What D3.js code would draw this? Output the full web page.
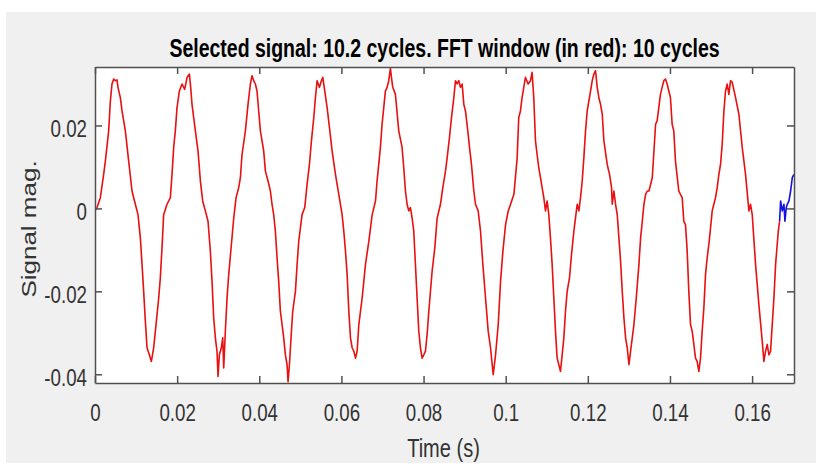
<!DOCTYPE html>
<html>
<head>
<meta charset="utf-8">
<script src="https://cdn.jsdelivr.net/npm/d3@7"></script>
<style>
  html, body { margin: 0; padding: 0; background: #fff; }
  svg { display: block; }
  text { font-family: "Liberation Sans", Arial, Helvetica, sans-serif; }
</style>
</head>
<body>
<svg id="chart"></svg>
<script>
// samples: [time in ms, signal in thousandths]
const redSignal = [
	[0, -0.5], [0.49, 0.2], [1.30, 2.6], [2.11, 8.2], [2.52, 11.4], [3.33, 18.7], [3.74, 25.9], [4.14, 30.0],
	[4.55, 31.2], [4.95, 30.8], [5.36, 31.0], [5.60, 29.2], [6.17, 26.7], [6.58, 23.5], [7.39, 18.7], [8.20, 11.4],
	[9.01, 4.2], [9.82, 1.0], [10.47, -1.5], [11.04, -7.1], [11.45, -13.5], [11.85, -20.0], [12.26, -27.2], [12.67, -33.6],
	[13.23, -35.3], [13.72, -36.9], [14.29, -33.6], [14.70, -29.6], [15.51, -21.6], [15.91, -16.7], [16.32, -9.5], [16.72, -1.5],
	[17.54, 1.0], [18.35, 2.6], [18.75, 8.2], [19.16, 14.7], [19.56, 18.7], [19.97, 24.3], [20.54, 28.3], [21.19, 30.0],
	[21.84, 28.7], [22.41, 31.6], [22.98, 32.4], [23.30, 29.2], [23.62, 25.1], [24.44, 18.7], [25.09, 13.8], [25.66, 6.6],
	[26.22, 1.8], [26.87, -0.6], [27.52, -3.1], [28.09, -10.3], [28.50, -17.6], [28.90, -26.4], [29.31, -31.2], [29.71, -34.5],
	[29.96, -40.5], [30.28, -35.3], [30.77, -33.6], [31.10, -31.2], [31.34, -38.5], [31.74, -29.6], [32.15, -21.6], [32.56, -15.9],
	[33.21, -8.7], [33.78, -2.3], [34.35, 2.6], [34.99, 5.0], [35.40, 7.4], [35.80, 13.0], [36.62, 18.7], [37.26, 25.1],
	[37.83, 30.0], [38.24, 32.0], [38.64, 30.8], [39.05, 30.0], [39.45, 28.3], [39.86, 23.5], [40.27, 18.7], [41.08, 13.8],
	[41.49, 9.0], [42.13, 6.6], [42.70, 4.2], [43.11, 1.0], [43.51, -1.5], [43.92, -5.5], [44.33, -11.9], [44.73, -17.6],
	[45.14, -24.8], [45.55, -28.0], [45.95, -31.2], [46.36, -35.3], [46.77, -37.7], [47.01, -41.8], [47.34, -37.7], [47.83, -29.6],
	[48.15, -24.8], [48.80, -20.0], [49.21, -13.5], [49.61, -7.9], [50.42, -1.5], [51.07, 0.2], [51.64, 5.8], [52.21, 10.6],
	[52.70, 16.3], [53.27, 21.9], [53.67, 26.7], [54.08, 30.8], [54.65, 29.2], [55.13, 30.8], [55.46, 31.6], [55.95, 28.3],
	[56.52, 24.3], [57.09, 19.5], [57.74, 13.8], [58.55, 8.2], [59.36, 3.4], [60.17, -1.5], [60.58, -5.5], [60.99, -10.3],
	[61.39, -15.9], [61.80, -24.8], [62.21, -31.2], [62.61, -33.6], [63.02, -34.4], [63.43, -36.1], [63.83, -34.4], [64.24, -28.0],
	[65.05, -21.6], [65.86, -13.5], [66.68, -7.9], [67.49, -1.5], [68.30, 1.8], [68.68, 6.6], [69.09, 10.6], [69.49, 14.7],
	[69.90, 20.3], [70.31, 24.3], [70.71, 28.3], [71.12, 29.2], [71.52, 30.8], [71.93, 33.8], [72.18, 31.6], [72.50, 29.2],
	[73.15, 27.5], [73.96, 18.7], [74.77, 14.7], [75.18, 9.8], [75.59, 4.2], [75.99, 1.0], [76.40, -0.6], [76.80, 0.2],
	[77.21, -2.3], [77.62, -5.5], [78.02, -13.5], [78.43, -21.6], [78.84, -29.6], [79.24, -33.6], [79.65, -36.1], [80.06, -35.3],
	[80.46, -34.4], [80.87, -30.4], [81.28, -24.8], [82.09, -15.1], [82.74, -9.5], [83.31, -2.3], [84.12, 1.0], [84.69, 5.0],
	[85.34, 9.0], [85.74, 12.2], [86.31, 17.1], [86.80, 21.9], [87.37, 26.7], [87.77, 30.8], [88.18, 30.0], [88.59, 30.8],
	[88.99, 29.2], [89.40, 30.0], [89.80, 25.1], [90.21, 23.5], [90.86, 17.9], [91.19, 14.7], [91.67, 10.6], [92.24, 4.2],
	[92.65, 1.0], [93.30, -0.6], [93.87, -5.5], [94.44, -13.5], [95.09, -21.6], [95.74, -29.6], [96.31, -33.6], [96.71, -37.7],
	[96.96, -40.1], [97.53, -35.3], [98.18, -28.0], [98.75, -17.6], [99.32, -10.3], [99.97, -3.9], [100.62, -0.6], [101.19, 1.0],
	[102.00, 3.4], [102.78, 12.0], [103.18, 21.9], [103.59, 23.5], [103.99, 26.7], [104.81, 31.6], [105.46, 30.0], [106.03, 30.8],
	[106.43, 32.8], [106.84, 26.7], [107.25, 16.3], [107.65, 13.0], [108.06, 9.8], [108.47, 7.4], [108.87, 5.0], [109.28, 2.6],
	[109.69, -0.6], [110.09, 1.8], [110.50, -1.5], [110.90, -7.1], [111.31, -13.5], [111.72, -21.6], [112.12, -29.6], [112.53, -36.1],
	[112.94, -37.7], [113.34, -39.3], [113.75, -35.3], [114.16, -31.2], [114.56, -24.8], [114.97, -20.0], [115.54, -16.7], [116.03, -11.1],
	[116.60, -5.5], [117.00, -2.3], [117.41, 1.0], [117.82, -0.6], [118.22, 2.6], [118.63, 6.6], [119.03, 12.2], [119.44, 18.7],
	[119.85, 23.5], [120.25, 25.9], [120.66, 28.3], [121.07, 30.8], [121.47, 32.4], [121.88, 33.2], [122.29, 29.2], [122.69, 26.7],
	[123.10, 25.1], [123.51, 22.7], [123.91, 16.3], [124.72, 10.6], [125.29, 8.2], [125.78, 5.0], [125.94, 1.0], [126.35, 4.2],
	[126.75, 1.0], [127.16, -1.5], [127.57, -7.1], [127.97, -12.7], [128.38, -20.0], [128.79, -26.4], [129.19, -31.2], [129.60, -33.6],
	[130.01, -37.7], [130.41, -34.4], [130.82, -31.2], [131.22, -28.0], [131.79, -21.6], [132.44, -13.5], [132.85, -7.1], [133.26, -3.1],
	[133.66, 1.0], [134.07, 3.4], [134.48, 4.2], [134.88, 4.2], [135.69, 7.4], [136.50, 20.3], [136.87, 21.1], [137.28, 24.3],
	[137.68, 27.5], [138.09, 29.2], [138.50, 30.8], [138.90, 31.2], [139.31, 30.0], [139.72, 28.3], [140.12, 26.7], [140.53, 20.3],
	[140.93, 18.7], [141.34, 11.4], [142.15, 4.2], [142.56, 3.4], [142.97, 2.6], [143.37, -3.1], [143.78, -3.9], [144.19, -10.3],
	[144.59, -20.0], [145.00, -28.0], [145.41, -29.6], [145.81, -32.8], [146.22, -36.1], [146.62, -36.9], [147.03, -39.3], [147.44, -36.1],
	[147.84, -29.6], [148.25, -24.0], [148.66, -15.9], [149.06, -11.9], [149.47, -8.7], [149.88, -4.7], [150.28, -0.6], [150.69, 1.0],
	[151.09, 2.6], [151.50, 5.0], [151.91, 8.2], [152.31, 10.6], [152.72, 15.5], [153.13, 23.5], [153.53, 28.3], [153.94, 30.0],
	[154.34, 27.5], [154.75, 30.8], [155.16, 30.4], [155.97, 26.7], [156.78, 22.7], [157.59, 14.7], [158.40, 8.2], [159.22, -0.6],
	[159.62, 1.0], [160.03, -1.5], [160.84, -13.5], [161.65, -23.2], [162.46, -32.0], [162.87, -36.9], [163.28, -34.4], [163.68, -32.8],
	[164.09, -35.3], [164.50, -34.4], [164.90, -28.0], [165.31, -21.6], [165.72, -13.5], [166.37, -5.5], [166.69, -3.1]
];

// the part of the selected signal past the 10-cycle window
const blueSignal = [
	[166.69, -3.1], [166.94, 1.8], [167.34, -0.6], [167.75, 1.0], [167.99, -3.1], [168.32, 0.2],
	[168.56, 1.0], [168.97, 1.8], [169.38, 4.2], [169.78, 7.4], [170.19, 8.2]
];

const xTicks = [0, 0.02, 0.04, 0.06, 0.08, 0.1, 0.12, 0.14, 0.16];
const yTicks = [-0.04, -0.02, 0, 0.02];
const xLimits = [0, 0.1702];
const yLimits = [-0.0421, 0.0341];
const titleText = "Selected signal: 10.2 cycles. FFT window (in red): 10 cycles";
const xLabelText = "Time (s)";
const yLabelText = "Signal mag.";

const width = 816;
const height = 468;
const margin = { top: 67, right: 22, bottom: 85, left: 95 };
const axisColor = "#505050";
const textColor = "#333333";

function fmt(d) {
	return String(+d.toFixed(2));
}

function drawChart() {
	const svg = d3.select("#chart").attr("width", width).attr("height", height);

	// figure background (screenshot has a thin white edge)
	svg.append("rect").attr("width", width).attr("height", height).attr("fill", "#ffffff");
	svg.append("rect")
		.attr("x", 6).attr("y", 12)
		.attr("width", width - 6).attr("height", 451)
		.attr("fill", "#f0f0f0");

	const x = d3.scaleLinear().domain(xLimits).range([margin.left, width - margin.right]);
	const y = d3.scaleLinear().domain(yLimits).range([height - margin.bottom, margin.top]);

	svg.append("rect")
		.attr("x", margin.left).attr("y", margin.top)
		.attr("width", width - margin.left - margin.right)
		.attr("height", height - margin.top - margin.bottom)
		.attr("fill", "#ffffff");

	svg.append("clipPath").attr("id", "plotclip")
		.append("rect")
		.attr("x", margin.left).attr("y", margin.top - 1)
		.attr("width", width - margin.left - margin.right)
		.attr("height", height - margin.top - margin.bottom + 2);

	const line = d3.line()
		.x((d) => x(d[0] * 1e-3))
		.y((d) => y(d[1] * 1e-3));

	const plot = svg.append("g").attr("clip-path", "url(#plotclip)");
	plot.append("path").datum(blueSignal)
		.attr("d", line).attr("fill", "none")
		.attr("stroke", "#1010e0").attr("stroke-width", 1.6)
		.attr("stroke-linejoin", "round");
	plot.append("path").datum(redSignal)
		.attr("d", line).attr("fill", "none")
		.attr("stroke", "#e81010").attr("stroke-width", 1.6)
		.attr("stroke-linejoin", "round");

	// axes, MATLAB style: ticks inside on all four sides
	const bottom = svg.append("g")
		.attr("transform", "translate(0," + (height - margin.bottom) + ")")
		.call(d3.axisBottom(x).tickValues(xTicks).tickSize(-7).tickSizeOuter(0).tickPadding(21).tickFormat(fmt));
	bottom.selectAll("text")
		.attr("font-size", 24)
		.attr("fill", textColor)
		.attr("transform", "scale(0.78,1)");

	svg.append("g")
		.attr("transform", "translate(0," + margin.top + ")")
		.call(d3.axisTop(x).tickValues(xTicks).tickSize(-7).tickSizeOuter(0).tickFormat(""));

	const left = svg.append("g")
		.attr("transform", "translate(" + margin.left + ",0)")
		.call(d3.axisLeft(y).tickValues(yTicks).tickSize(-7).tickSizeOuter(0).tickFormat(fmt));
	left.selectAll("text")
		.attr("font-size", 24)
		.attr("fill", textColor)
		.attr("x", 0)
		.attr("dy", "0.45em")
		.attr("transform", "translate(-8,0) scale(0.78,1)");

	svg.append("g")
		.attr("transform", "translate(" + (width - margin.right) + ",0)")
		.call(d3.axisRight(y).tickValues(yTicks).tickSize(-7).tickSizeOuter(0).tickFormat(""));

	svg.selectAll(".domain, .tick line")
		.attr("stroke", axisColor)
		.attr("stroke-width", 1.5);

	const cx = (margin.left + width - margin.right) / 2;

	svg.append("text")
		.attr("transform", "translate(" + cx + ",57) scale(0.75,1)")
		.attr("text-anchor", "middle")
		.attr("font-size", 26)
		.attr("font-weight", "bold")
		.attr("fill", "#000")
		.text(titleText);

	svg.append("text")
		.attr("transform", "translate(" + (cx - 1) + ",456.5) scale(0.77,1)")
		.attr("text-anchor", "middle")
		.attr("font-size", 26)
		.attr("fill", textColor)
		.text(xLabelText);

	svg.append("text")
		.attr("transform", "translate(36,229) rotate(-90) scale(1,0.8)")
		.attr("text-anchor", "middle")
		.attr("font-size", 26)
		.attr("fill", textColor)
		.text(yLabelText);
}

drawChart();
</script>
</body>
</html>
